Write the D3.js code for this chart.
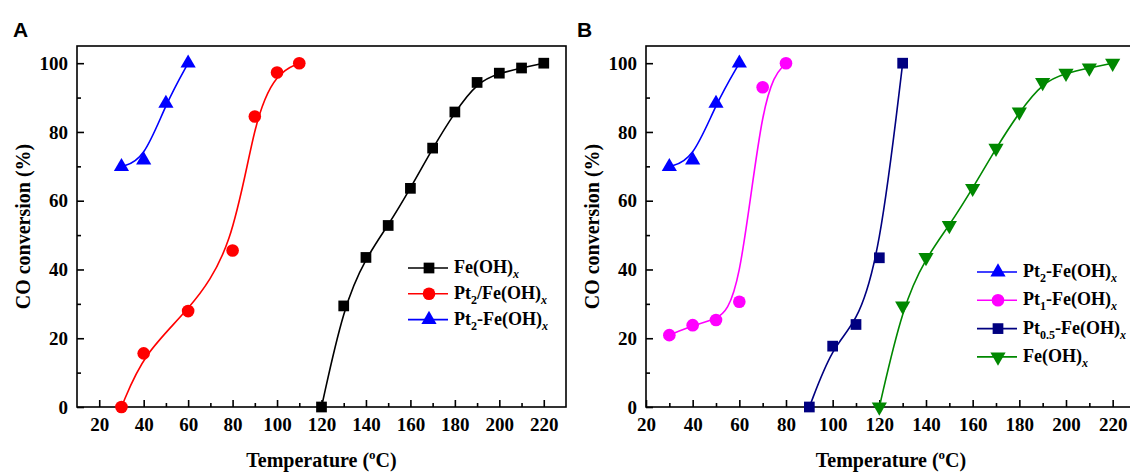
<!DOCTYPE html>
<html>
<head>
<meta charset="utf-8">
<script src="https://cdn.jsdelivr.net/npm/d3@7"></script>
<style>
  body { margin: 0; background: #fff; }
  svg { display: block; }
  text { font-family: "Liberation Serif", "Times New Roman", serif; font-weight: bold; fill: #000; }
  text.tag { font-family: "Liberation Sans", Arial, sans-serif; }
</style>
</head>
<body>
<svg id="chart" width="1130" height="472"></svg>
<script>
const svg = d3.select("#chart");

// panel A data (temperature in C, CO conversion in %)
const tempFeA = [120, 130, 140, 150, 160, 170, 180, 190, 200, 210, 220];
const convFeA = [0, 29.4, 43.5, 52.8, 63.6, 75.3, 85.8, 94.4, 97.1, 98.6, 100];
const tempPtSlashA = [30, 40, 60, 80, 90, 100, 110];
const convPtSlashA = [0, 15.6, 27.9, 45.5, 84.5, 97.3, 100];
const tempPt2A = [30, 40, 50, 60];
const convPt2A = [69.9, 71.8, 88.3, 100];

// panel B data
const tempPt2B = [30, 40, 50, 60];
const convPt2B = [69.9, 71.8, 88.3, 100];
const tempPt1B = [30, 40, 50, 60, 70, 80];
const convPt1B = [20.9, 23.8, 25.3, 30.6, 93, 100];
const tempPt05B = [90, 100, 110, 120, 130];
const convPt05B = [0, 17.7, 24, 43.4, 100];
const tempFeB = [120, 130, 140, 150, 160, 170, 180, 190, 200, 210, 220];
const convFeB = [0, 29.4, 43.5, 52.8, 63.6, 75.3, 85.8, 94.4, 97.1, 98.6, 100];

const xTicks = [20, 40, 60, 80, 100, 120, 140, 160, 180, 200, 220];
const yTicks = [0, 20, 40, 60, 80, 100];

// label pieces: [text, style] where style is "", "sub" or "subi"
const lblFe = [["Fe(OH)", ""], ["x", "subi"]];
const lblPtSlash = [["Pt", ""], ["2", "sub"], ["/Fe(OH)", ""], ["x", "subi"]];
const lblPt2 = [["Pt", ""], ["2", "sub"], ["-Fe(OH)", ""], ["x", "subi"]];
const lblPt1 = [["Pt", ""], ["1", "sub"], ["-Fe(OH)", ""], ["x", "subi"]];
const lblPt05 = [["Pt", ""], ["0.5", "sub"], ["-Fe(OH)", ""], ["x", "subi"]];

const panels = [
    {
        tag: "A", tagX: 13, left: 77, right: 566, top: 46, bottom: 407, xDomain: [10, 230],
        legend: { x: 408, y: 268, step: 25.8 },
        series: [
            { t: tempFeA, c: convFeA, color: "#000000", shape: "square", label: lblFe },
            { t: tempPtSlashA, c: convPtSlashA, color: "#ff0000", shape: "circle", label: lblPtSlash },
            { t: tempPt2A, c: convPt2A, color: "#0000ff", shape: "triangle", label: lblPt2 }
        ]
    },
    {
        tag: "B", tagX: 577, left: 646, right: 1136, top: 46, bottom: 407, xDomain: [20, 230],
        legend: { x: 977, y: 272, step: 28.3 },
        series: [
            { t: tempPt2B, c: convPt2B, color: "#0000ff", shape: "triangle", label: lblPt2 },
            { t: tempPt1B, c: convPt1B, color: "#ff00ff", shape: "circle", label: lblPt1 },
            { t: tempPt05B, c: convPt05B, color: "#000080", shape: "square", label: lblPt05 },
            { t: tempFeB, c: convFeB, color: "#008800", shape: "down", label: lblFe }
        ]
    }
];

function symbolPath(shape) {
    if (shape === "square") return d3.symbol(d3.symbolSquare, 115)();
    if (shape === "circle") return d3.symbol(d3.symbolCircle, 125)();
    return d3.symbol(d3.symbolTriangle, 100)();
}

function drawMarker(g, shape, color, x, y) {
    g.append("path")
        .attr("d", symbolPath(shape))
        .attr("transform", `translate(${x},${y})` + (shape === "down" ? " rotate(180)" : ""))
        .attr("fill", color);
}

function writeLabel(textSel, pieces) {
    let shifted = false;
    pieces.forEach(([s, style]) => {
        const sp = textSel.append("tspan").text(s);
        if (style === "sub" || style === "subi") {
            sp.attr("font-size", "12px").attr("dy", shifted ? 0 : 5);
            if (style === "subi") sp.attr("font-style", "italic");
            shifted = true;
        } else if (shifted) {
            sp.attr("dy", -5);
            shifted = false;
        }
    });
}

panels.forEach(p => {
    const x = d3.scaleLinear().domain(p.xDomain).range([p.left, p.right]);
    const y = d3.scaleLinear().domain([0, 105]).range([p.bottom, p.top]);
    const g = svg.append("g");

    // frame
    g.append("rect")
        .attr("x", p.left).attr("y", p.top)
        .attr("width", p.right - p.left).attr("height", p.bottom - p.top)
        .attr("fill", "none").attr("stroke", "#000").attr("stroke-width", 1.6);

    // minor ticks
    const minorX = d3.range(20, 221, 10).filter(v => v % 20 !== 0);
    const minorY = d3.range(10, 101, 20);
    g.append("g").attr("transform", `translate(0,${p.bottom})`)
        .call(d3.axisBottom(x).tickValues(minorX).tickSize(-4).tickFormat(""))
        .call(a => a.select(".domain").remove())
        .selectAll("line").attr("stroke-width", 1.6);
    g.append("g").attr("transform", `translate(${p.left},0)`)
        .call(d3.axisLeft(y).tickValues(minorY).tickSize(-4).tickFormat(""))
        .call(a => a.select(".domain").remove())
        .selectAll("line").attr("stroke-width", 1.6);

    // major ticks
    const xa = g.append("g").attr("transform", `translate(0,${p.bottom})`)
        .call(d3.axisBottom(x).tickValues(xTicks).tickSize(-7).tickPadding(11))
        .call(a => a.select(".domain").remove());
    xa.selectAll("line").attr("stroke-width", 1.6);
    xa.selectAll("text").attr("font-size", "19px").attr("fill", "#000");

    const ya = g.append("g").attr("transform", `translate(${p.left},0)`)
        .call(d3.axisLeft(y).tickValues(yTicks).tickSize(-7).tickPadding(9))
        .call(a => a.select(".domain").remove());
    ya.selectAll("line").attr("stroke-width", 1.6);
    ya.selectAll("text").attr("font-size", "19px").attr("fill", "#000");

    // axis titles
    g.append("text")
        .attr("transform", `translate(${p.left - 47},${(p.top + p.bottom) / 2}) rotate(-90)`)
        .attr("text-anchor", "middle").attr("font-size", "20px")
        .text("CO conversion (%)");

    const xt = g.append("text")
        .attr("x", (p.left + p.right) / 2).attr("y", 467)
        .attr("text-anchor", "middle").attr("font-size", "20px");
    xt.append("tspan").text("Temperature (");
    xt.append("tspan").text("o").attr("font-size", "13px").attr("dy", -8);
    xt.append("tspan").text("C)").attr("dy", 8);

    // panel tag
    g.append("text").attr("class", "tag")
        .attr("x", p.tagX).attr("y", 37)
        .attr("font-size", "21px").text(p.tag);

    // curves and markers
    const line = d3.line().curve(d3.curveBasis).x(d => x(d[0])).y(d => y(d[1]));
    p.series.forEach(s => {
        const pts = s.t.map((t, i) => [t, s.c[i]]);
        g.append("path").datum(pts)
            .attr("d", line)
            .attr("fill", "none").attr("stroke", s.color).attr("stroke-width", 1.6);
        pts.forEach(d => drawMarker(g, s.shape, s.color, x(d[0]), y(d[1])));
    });

    // legend
    p.series.forEach((s, i) => {
        const ly = p.legend.y + i * p.legend.step;
        g.append("line")
            .attr("x1", p.legend.x).attr("x2", p.legend.x + 40)
            .attr("y1", ly).attr("y2", ly)
            .attr("stroke", s.color).attr("stroke-width", 1.6);
        drawMarker(g, s.shape, s.color, p.legend.x + 21, ly);
        const t = g.append("text")
            .attr("x", p.legend.x + 46).attr("y", ly + 5)
            .attr("font-size", "18px");
        writeLabel(t, s.label);
    });
});
</script>
</body>
</html>
